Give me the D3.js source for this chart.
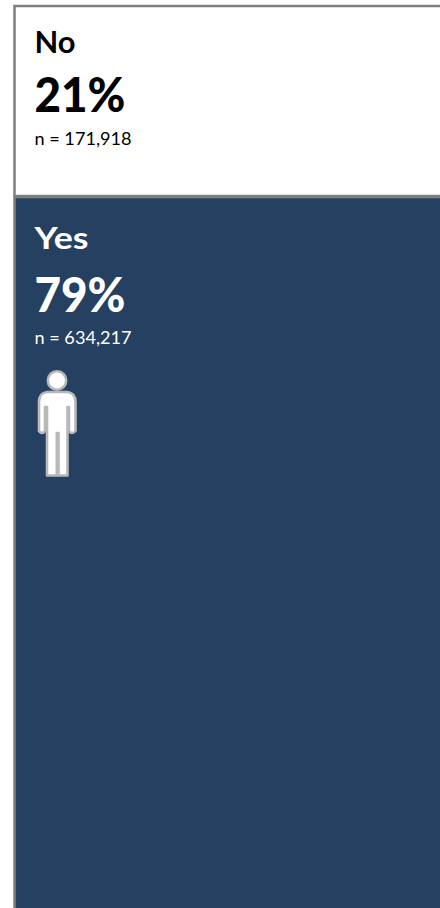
<!DOCTYPE html>
<html><head><meta charset="utf-8">
<style>html,body{margin:0;padding:0;background:#fff;overflow:hidden}svg{display:block}text{font-family:Lato,"Open Sans",sans-serif}</style>
<script src="https://cdn.jsdelivr.net/npm/d3@7"></script></head>
<body><svg id="c" width="440" height="908"></svg>
<script>
const categories = ["No", "Yes"];
const percents = [21, 79];
const counts = ["171,918", "634,217"];
const icons = [0, 1];

const svg = d3.select("#c");
const W = 440;
const top0 = 6;
const h = d3.scaleLinear().domain([0, 100]).range([0, 905]);
const fills = ["#ffffff", "#264061"];
const inks = ["#000000", "#ffffff"];
const starts = d3.cumsum([0].concat(percents)).slice(0, 2);
const labelY = [53, 249], pctY = [112, 312], nY = [145, 344];

const g = svg.selectAll("g.p").data(categories).join("g").attr("class", "p");

g.append("rect").attr("x", 14.5).attr("y", (d, i) => top0 + h(starts[i]) + i).attr("width", W)
  .attr("height", (d, i) => h(percents[i]))
  .attr("fill", (d, i) => fills[i]).attr("stroke", "#7f7f7f").attr("stroke-width", 2.5);

g.append("text").attr("x", 34.5).attr("y", (d, i) => labelY[i]).attr("font-size", 31).attr("font-weight", 700)
  .attr("fill", (d, i) => inks[i]).attr("textLength", (d, i) => i ? 54 : 41).attr("lengthAdjust", "spacingAndGlyphs").text(d => d);
g.append("text").attr("x", 34.5).attr("y", (d, i) => pctY[i]).attr("font-size", 48).attr("font-weight", 900)
  .attr("fill", (d, i) => inks[i]).attr("textLength", 91).attr("lengthAdjust", "spacingAndGlyphs").text((d, i) => percents[i] + "%");
g.append("text").attr("x", 34.5).attr("y", (d, i) => nY[i]).attr("font-size", 17)
  .attr("fill", (d, i) => inks[i]).attr("textLength", 97).attr("lengthAdjust", "spacingAndGlyphs").text((d, i) => "n = " + counts[i]);

// person pictogram
const body = "M47 392 Q39 393 39 402 L39 431 Q42 435 45 431 L45 407 L47 407 L47 475.5 L56.8 475.5 L56.8 433 L58.5 433 L58.5 475.5 L67.5 475.5 L67.5 407 L69 407 L69 431 Q72 435 75.5 431 L75.5 402 Q75.5 393 67.5 392 Z";
const person = svg.selectAll("g.icon").data(icons.filter(d => d === 1)).join("g").attr("class", "icon");
person.append("circle").attr("cx", 57).attr("cy", 380.5).attr("r", 9.2)
  .attr("fill", "#fff").attr("stroke", "#b8b8b8").attr("stroke-width", 2.6);
person.append("path").attr("d", body).attr("fill", "#fff").attr("stroke", "#b8b8b8").attr("stroke-width", 2.6).attr("stroke-linejoin", "round");
</script></body></html>
